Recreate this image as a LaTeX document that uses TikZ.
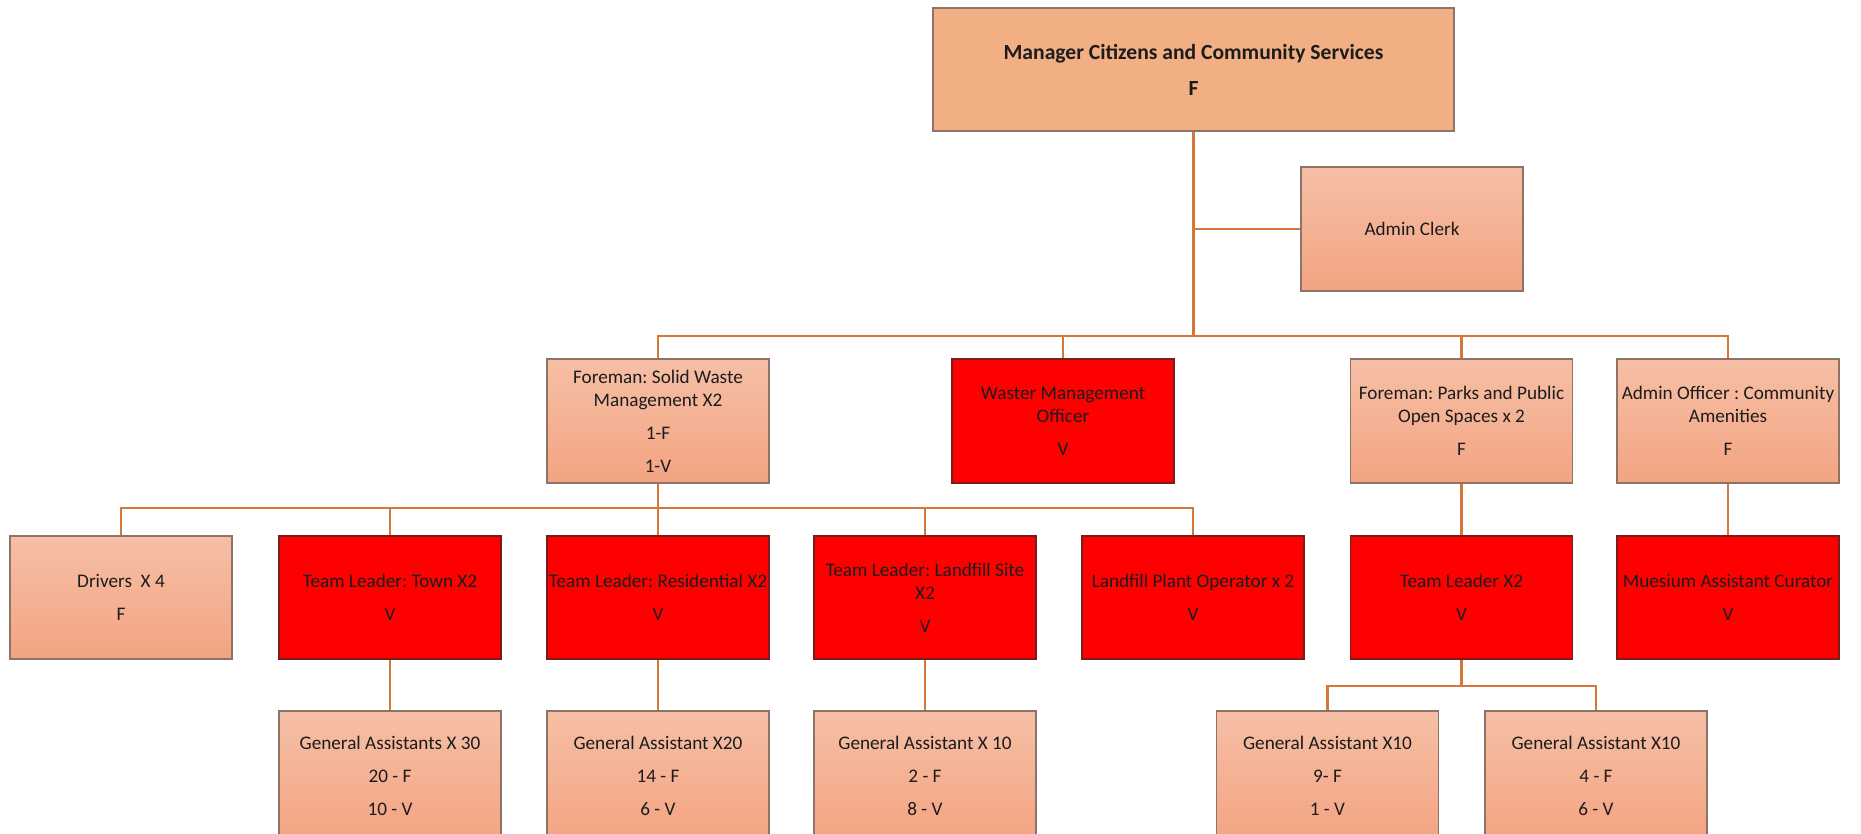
\documentclass[tikz,border=0pt]{standalone}
\usepackage{fontspec}
\setmainfont{Carlito}
\frenchspacing
\definecolor{peachTop}{HTML}{F6BFA5}
\definecolor{peachBot}{HTML}{F3A482}
\definecolor{headFill}{HTML}{F2AF83}
\definecolor{peachEdge}{HTML}{8E7468}
\definecolor{vacant}{HTML}{FF0000}
\definecolor{vacantEdge}{HTML}{7A1C1C}
\definecolor{link}{HTML}{D47838}
\definecolor{ink}{HTML}{1C1C1C}
\tikzset{
  post/.style={rectangle, minimum width=222pt, minimum height=123pt, inner sep=0pt,
    align=center, text=ink, font=\fontsize{19.2}{23}\selectfont, line width=1.2pt},
  filled/.style={post, draw=peachEdge, top color=peachTop, bottom color=peachBot},
  open/.style={post, draw=vacantEdge, fill=vacant},
  head/.style={post, draw=peachEdge, fill=headFill, minimum width=521pt,
    font=\fontsize{21.6}{26}\selectfont\bfseries},
  lowest/.style={filled, minimum height=130pt},
  conn/.style={draw=link, line width=2.6pt},
}
\begin{document}
\begin{tikzpicture}[x=1pt, y=-1pt]
\useasboundingbox (0,0) rectangle (1861,833);
\fill[white] (0,0) rectangle (1861,833);
\begin{scope}
\clip (0,0) rectangle (1861,833);

% head of department and clerk
\node[head] (top) at (1193.5,69.5) {Manager Citizens and Community Services\\[10pt]F};
\node[filled, minimum height=124pt] (clerk) at (1412,229) {Admin Clerk};
\coordinate (bus1) at (1193.5,336);

% second tier
\node[filled, minimum height=124pt] (fsw) at (658,421) {Foreman: Solid Waste\\Management X2\\[10pt]1-F\\[10pt]1-V};
\node[open, minimum height=124pt] (wmo) at (1063,421) {Waster Management\\Officer\\[10pt]V};
\node[filled, minimum height=124pt] (fpp) at (1461.5,421) {Foreman: Parks and Public\\Open Spaces x 2\\[10pt]F};
\node[filled, minimum height=124pt] (aoc) at (1728,421) {Admin Officer : Community\\Amenities\\[10pt]F};
\coordinate (bus2) at (658,508);

% third tier
\node[filled] (drv) at (121,597.5) {Drivers~ X 4\\[10pt]F};
\node[open] (ttl) at (390,597.5) {Team Leader: Town X2\\[10pt]V};
\node[open] (trs) at (658,597.5) {Team Leader: Residential X2\\[10pt]V};
\node[open] (tlf) at (925,597.5) {Team Leader: Landfill Site\\X2\\[10pt]V};
\node[open] (lpo) at (1193,597.5) {Landfill Plant Operator x 2\\[10pt]V};
\node[open] (tl2) at (1461.5,597.5) {Team Leader X2\\[10pt]V};
\node[open] (mus) at (1728,597.5) {Muesium Assistant Curator\\[10pt]V};
\coordinate (bus3) at (1461.5,686);

% fourth tier (runs past the lower edge)
\node[lowest] (ga30) at (390,776) {General Assistants X 30\\[10pt]20 - F\\[10pt]10 - V};
\node[lowest] (ga20) at (658,776) {General Assistant X20\\[10pt]14 - F\\[10pt]6 - V};
\node[lowest] (ga10) at (925,776) {General Assistant X 10\\[10pt]2 - F\\[10pt]8 - V};
\node[lowest] (gaA) at (1327.5,776) {General Assistant X10\\[10pt]9- F\\[10pt]1 - V};
\node[lowest] (gaB) at (1596,776) {General Assistant X10\\[10pt]4 - F\\[10pt]6 - V};

% reporting lines
\draw[conn] (top.south) -- (bus1);
\draw[conn] (clerk.west) -- (clerk.west -| top.south);
\draw[conn] (fsw.north) |- (bus1) -| (aoc.north);
\draw[conn] (wmo.north) -- (wmo.north |- bus1);
\draw[conn] (fpp.north) -- (fpp.north |- bus1);

\draw[conn] (fsw.south) -- (bus2);
\draw[conn] (drv.north) |- (bus2) -| (lpo.north);
\draw[conn] (ttl.north) -- (ttl.north |- bus2);
\draw[conn] (trs.north) -- (bus2);
\draw[conn] (tlf.north) -- (tlf.north |- bus2);

\draw[conn] (fpp.south) -- (tl2.north);
\draw[conn] (aoc.south) -- (mus.north);

\draw[conn] (ttl.south) -- (ga30.north);
\draw[conn] (trs.south) -- (ga20.north);
\draw[conn] (tlf.south) -- (ga10.north);
\draw[conn] (tl2.south) -- (bus3);
\draw[conn] (gaA.north) |- (bus3) -| (gaB.north);
\end{scope}
\end{tikzpicture}
\end{document}
